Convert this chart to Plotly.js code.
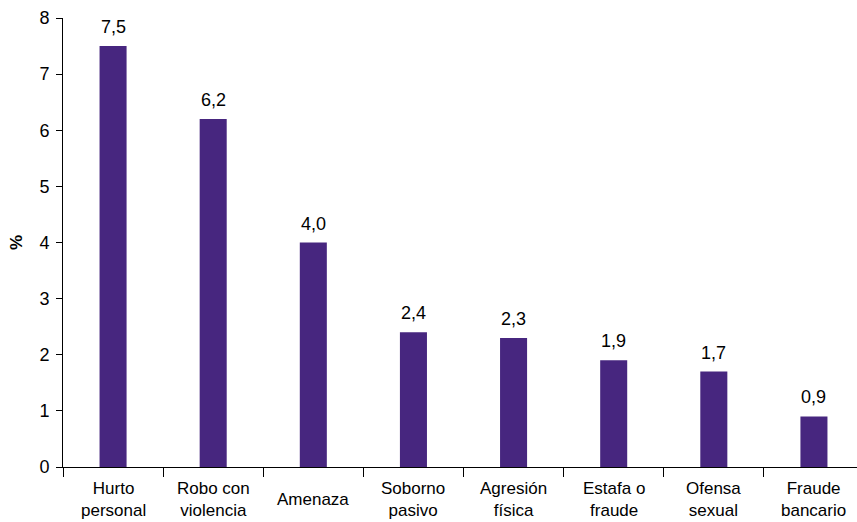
<!DOCTYPE html>
<html><head><meta charset="utf-8">
<script src="https://cdn.plot.ly/plotly-3.0.1.min.js"></script>
<style>html,body{margin:0;padding:0;background:#fff}#chart{width:857px;height:522px}</style>
</head><body><div id="chart"></div>
<script>
const categories = ["Hurto personal","Robo con violencia","Amenaza","Soborno pasivo","Agresión física","Estafa o fraude","Ofensa sexual","Fraude bancario"];
const labelLines = ["Hurto<br>personal","Robo con<br>violencia","Amenaza","Soborno<br>pasivo","Agresión<br>física","Estafa o<br>fraude","Ofensa<br>sexual","Fraude<br>bancario"];
const values = [7.5, 6.2, 4.0, 2.4, 2.3, 1.9, 1.7, 0.9];
const valueLabels = ["7,5","6,2","4,0","2,4","2,3","1,9","1,7","0,9"];
const yTicks = [0,1,2,3,4,5,6,7,8];

const fam = "Liberation Sans, Arial, sans-serif";
const font = {family: fam, color: "#000", size: 18};
const catFont = {family: fam, color: "#000", size: 17};

const annotations = [];
categories.forEach((c, i) => {
  annotations.push({x: c, xref: "x", y: values[i], yref: "y", text: valueLabels[i], showarrow: false,
    yanchor: "bottom", yshift: 7, font: font});
  annotations.push({x: c, xref: "x", y: 0, yref: "paper", text: labelLines[i], showarrow: false,
    yanchor: "middle", yshift: -32, font: catFont});
});

Plotly.newPlot("chart", [{
  type: "bar", x: categories, y: values, width: 0.27,
  marker: {color: "#47267F", line: {width: 0}},
  hoverinfo: "skip"
}], {
  width: 857, height: 522,
  margin: {l: 63, r: 0, t: 18, b: 55},
  paper_bgcolor: "#fff", plot_bgcolor: "#fff",
  font: font,
  showlegend: false,
  xaxis: {type: "category", range: [-0.5, 7.43], showticklabels: false,
    showline: true, linecolor: "#000", linewidth: 1, ticks: "outside", tickson: "boundaries",
    ticklen: 9, tickcolor: "#000", showgrid: false, zeroline: false, fixedrange: true},
  yaxis: {range: [0, 8], tickvals: yTicks, ticks: "outside", ticklen: 6, tickcolor: "#000",
    showline: true, linecolor: "#000", linewidth: 1, showgrid: false, zeroline: false,
    ticklabelstandoff: 3,
    tickfont: {family: fam, size: 18, color: "#000"},
    title: {text: "%", font: {family: fam, size: 17, color: "#000", weight: "bold"}, standoff: 12}},
  annotations: annotations
}, {staticPlot: true});
</script></body></html>
